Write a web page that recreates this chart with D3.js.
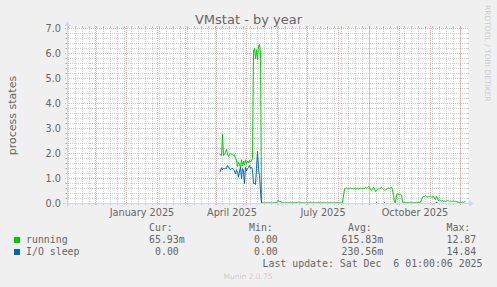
<!DOCTYPE html>
<html>
<head>
<meta charset="utf-8">
<script src="https://cdn.jsdelivr.net/npm/d3@7/dist/d3.min.js"></script>
<style>
  html, body { margin: 0; padding: 0; background: #f0f0f0; }
  svg { display: block; }
  text { font-family: "DejaVu Sans", sans-serif; fill: #666666; }
  .mono { font-family: "DejaVu Sans Mono", monospace; white-space: pre; }
</style>
</head>
<body>
<svg id="chart" width="497" height="287"></svg>
<script>
// chart data, one value per day from dataStart
var title = "VMstat - by year";
var yLabel = "process states";
var timeDomain = ["2024-11-03", "2025-12-08"];
var dataStart = "2025-04-04";
var seriesNames = ["running", "I/O sleep"];
var seriesColors = ["#00cc00", "#0066b3"];

var runningValues = [
  1.96,1.95,1.92,2.76,1.92,2.00,2.05,2.16,1.98,1.88,1.97,1.99,1.96,1.97,1.92,1.95,1.80,1.70,1.48,1.65,
  1.55,1.42,1.75,1.50,1.70,1.55,1.75,1.60,1.70,1.62,1.72,1.65,1.72,1.79,6.10,6.20,5.80,6.15,5.75,6.28,
  6.36,6.05,0.03,
  0.03,0.03,0.03,0.03,0.03,0.03,0.03,0.03,0.03,0.03,0.03,0.03,0.03,0.04,0.05,0.08,0.12,0.06,0.10,0.04,
  0.03,0.03,0.03,0.03,0.03,0.03,0.03,0.03,0.05,0.03,0.03,0.03,0.03,0.03,0.04,0.03,0.06,0.03,0.05,0.03,
  0.03,0.03,0.03,0.03,0.03,0.03,0.03,0.03,0.05,0.03,0.03,0.03,0.03,0.03,0.03,0.03,0.05,0.03,0.03,0.03,
  0.04,0.03,0.03,0.03,0.03,0.03,0.03,0.03,0.05,0.03,0.03,0.03,0.03,0.03,0.04,0.03,0.03,0.03,0.03,0.03,
  0.03,0.30,0.59,0.60,0.62,0.59,0.61,0.59,0.63,0.59,0.60,0.59,0.61,0.60,0.59,0.61,0.58,0.60,0.62,0.59,
  0.60,0.61,0.59,0.64,0.62,0.63,0.68,0.64,0.56,0.52,0.58,0.65,0.60,0.48,0.52,0.57,0.59,0.58,0.63,0.65,
  0.61,0.57,0.53,0.55,0.58,0.60,0.62,0.60,0.63,0.66,0.55,0.32,0.05,0.04,0.35,0.39,0.36,0.35,0.36,0.34,
  0.05,0.04,0.04,0.05,0.04,0.04,0.03,0.04,0.05,0.04,0.04,0.03,0.04,0.04,0.05,0.04,0.04,0.04,0.05,0.15,
  0.25,0.28,0.27,0.31,0.28,0.26,0.28,0.27,0.29,0.26,0.27,0.28,0.20,0.15,0.28,0.20,0.12,0.13,0.12,0.10,
  0.12,0.09,0.10,0.08,0.10,0.11,0.10,0.09,0.10,0.08,0.09,0.10,0.08,0.09,0.08,0.07,0.05,0.04,0.03,0.04,
  0.06,0.05,0.06,0.07
];

var ioSleepValues = [
  1.25,1.30,1.43,1.35,1.40,1.38,1.42,1.40,1.52,1.45,1.40,1.35,1.38,1.42,1.35,1.30,1.19,1.35,1.25,1.05,
  1.30,1.45,1.00,1.40,1.30,0.79,1.45,1.30,1.40,1.45,1.52,1.40,1.45,1.35,0.80,0.80,0.76,1.40,2.08,1.39,
  1.12,0.50,0.00,
  0,0,0,0,0,0,0,0,0,0,0,0,0,0,0,0,0,0,0,0,
  0,0,0,0,0,0,0,0,0,0,0,0,0,0,0,0,0,0,0,0,
  0,0,0,0,0,0,0,0,0,0,0,0,0,0,0,0,0,0,0,0,
  0,0,0,0,0,0,0,0,0,0,0,0,0,0,0,0,0,0,0,0,
  0,0,0,0,0,0,0,0,0,0,0,0,0,0,0,0,0,0,0,0,
  0,0,0,0,0,0,0,0,0,0,0,0,0,0,0.04,0,0,0,0,0,
  0,0,0.04,0,0,0,0,0,0,0,0,0,0,0,0,0,0,0,0,0,
  0,0,0,0,0,0,0,0,0,0,0,0,0,0,0,0,0,0,0,0,
  0,0,0,0,0,0,0,0,0,0,0,0,0,0,0.06,0,0,0,0,0,
  0,0,0,0,0,0,0,0,0,0,0,0,0,0,0,0,0,0,0,0,
  0,0,0,0
];

var yTicks = [0, 1, 2, 3, 4, 5, 6, 7];
var quarterLabels = ["2025-01-01", "2025-04-01", "2025-07-01", "2025-10-01"];
var legendHeader = ["Cur:", "Min:", "Avg:", "Max:"];
var runningStats = ["65.93m", "0.00", "615.83m", "12.87"];
var ioSleepStats = ["0.00", "0.00", "230.56m", "14.84"];
var lastUpdate = "Last update: Sat Dec  6 01:00:06 2025";
var watermark = "Munin 2.0.75";
var sideNote = "RRDTOOL / TOBI OETIKER";

var svg = d3.select("#chart");
var x0 = 67, y0 = 203, plotW = 400, plotH = 175;
var parseDay = d3.utcParse("%Y-%m-%d");
var start = parseDay(timeDomain[0]), end = parseDay(timeDomain[1]);

var x = d3.scaleUtc().domain([start, end]).range([x0 + 0.5, x0 + plotW + 0.5]);
var y = d3.scaleLinear().domain([0, 7]).range([y0 + 0.5, y0 - plotH + 0.5]);

svg.append("rect").attr("width", 497).attr("height", 287).attr("fill", "#f0f0f0");
svg.append("rect").attr("x", x0).attr("y", y0 - plotH).attr("width", plotW + 1).attr("height", plotH + 1).attr("fill", "#ffffff");

var minorCol = "rgba(143,143,143,0.42)";
var majorCol = "rgba(222,79,79,0.45)";
var grid = svg.append("g").attr("shape-rendering", "crispEdges");

// horizontal minor grid every 0.2
var minorY = d3.range(0, 36).map(function (i) { return i / 5; })
  .filter(function (v) { return Math.round(v * 5) % 5 != 0; });
minorY.forEach(function (v) {
  var yy = y(v);
  grid.append("line").attr("x1", x0 - 1).attr("x2", x0 + plotW + 1).attr("y1", yy).attr("y2", yy)
    .attr("stroke", minorCol).attr("stroke-dasharray", "1,1");
  grid.append("line").attr("x1", x0 - 2).attr("x2", x0).attr("y1", yy).attr("y2", yy).attr("stroke", minorCol);
  grid.append("line").attr("x1", x0 + plotW).attr("x2", x0 + plotW + 2).attr("y1", yy).attr("y2", yy).attr("stroke", minorCol);
});

// vertical minor grid, weekly on mondays
d3.utcMonday.range(start, end).forEach(function (d) {
  var xx = Math.round(x(d) - 0.5) + 0.5;
  grid.append("line").attr("x1", xx).attr("x2", xx).attr("y1", y0 + 1).attr("y2", y0 - plotH - 1)
    .attr("stroke", minorCol).attr("stroke-dasharray", "1,1");
  grid.append("line").attr("x1", xx).attr("x2", xx).attr("y1", y0).attr("y2", y0 + 2).attr("stroke", minorCol);
  grid.append("line").attr("x1", xx).attr("x2", xx).attr("y1", y0 - plotH - 2).attr("y2", y0 - plotH).attr("stroke", minorCol);
});

// major grid
yTicks.forEach(function (v) {
  var yy = y(v);
  grid.append("line").attr("x1", x0 - 2).attr("x2", x0 + plotW + 2).attr("y1", yy).attr("y2", yy)
    .attr("stroke", majorCol).attr("stroke-dasharray", "1,1");
});
d3.utcMonth.range(start, end).forEach(function (d) {
  var xx = Math.round(x(d) - 0.5) + 0.5;
  grid.append("line").attr("x1", xx).attr("x2", xx).attr("y1", y0 + 2).attr("y2", y0 - plotH - 2)
    .attr("stroke", majorCol).attr("stroke-dasharray", "1,1");
});

// data lines
var day0 = parseDay(dataStart);
function toPoints(values) {
  return values.map(function (v, i) { return { date: d3.utcDay.offset(day0, i), value: v }; });
}
var line = d3.line()
  .x(function (d) { return x(d.date); })
  .y(function (d) { return y(d.value); });

[runningValues, ioSleepValues].forEach(function (vals, i) {
  svg.append("path")
    .datum(toPoints(vals))
    .attr("fill", "none")
    .attr("stroke", seriesColors[i])
    .attr("stroke-width", 1)
    .attr("d", line);
});

// axes and arrows
var axisCol = "#cfd6f8";
svg.append("line").attr("x1", x0 - 4).attr("x2", x0 + plotW + 4).attr("y1", y0 + 0.5).attr("y2", y0 + 0.5)
  .attr("stroke", axisCol).attr("shape-rendering", "crispEdges");
svg.append("line").attr("x1", x0 + 0.5).attr("x2", x0 + 0.5).attr("y1", y0 + 4).attr("y2", y0 - plotH - 4)
  .attr("stroke", axisCol).attr("shape-rendering", "crispEdges");
svg.append("polygon").attr("fill", axisCol)
  .attr("points", [[x0 + plotW + 2, y0 - 2.5], [x0 + plotW + 2, y0 + 3.5], [x0 + plotW + 7, y0 + 0.5]].join(" "));
svg.append("polygon").attr("fill", axisCol)
  .attr("points", [[x0 - 2.5, y0 - plotH - 2], [x0 + 3.5, y0 - plotH - 2], [x0 + 0.5, y0 - plotH - 7]].join(" "));

// tick labels
var fmt = d3.format(".1f");
svg.append("g").selectAll("text").data(yTicks).enter().append("text")
  .attr("x", 61).attr("y", function (d) { return y(d); })
  .attr("dy", "0.36em").attr("text-anchor", "end")
  .style("font-size", "9.7px")
  .text(function (d) { return fmt(d); });

var labelFmt = d3.utcFormat("%B %Y");
svg.append("g").selectAll("text").data(quarterLabels.map(parseDay)).enter().append("text")
  .attr("x", function (d) { return x(d3.utcHour.offset(d, 15 * 24 + 12)); })
  .attr("y", 216).attr("text-anchor", "middle")
  .style("font-size", "9.7px")
  .text(function (d) { return labelFmt(d); });

// title and unit label
svg.append("text").attr("x", 248.5).attr("y", 23.5).attr("text-anchor", "middle")
  .style("font-size", "13px").text(title);
svg.append("text").attr("transform", "translate(16,115.5) rotate(-90)").attr("text-anchor", "middle")
  .style("font-size", "11px").text(yLabel);

svg.append("text").attr("transform", "translate(484.5,5) rotate(90)")
  .style("font-size", "7.5px").style("fill-opacity", 0.3).text(sideNote);

// legend
var headX = [149, 249, 348, 446.5];
var rowX = [[149, 254, 341.5, 446.5], [155, 254, 341.5, 446.5]];
var lg = svg.append("g").attr("class", "mono").style("font-size", "9.9px");
legendHeader.forEach(function (h, i) {
  lg.append("text").attr("class", "mono").attr("x", headX[i]).attr("y", 231).text(h);
});
[runningStats, ioSleepStats].forEach(function (stats, r) {
  var yy = 243 + r * 12;
  lg.append("rect").attr("x", 14).attr("y", yy - 6).attr("width", 6).attr("height", 6).attr("fill", seriesColors[r]);
  lg.append("text").attr("class", "mono").attr("x", 26).attr("y", yy).text(seriesNames[r]);
  stats.forEach(function (s, i) {
    lg.append("text").attr("class", "mono").attr("x", rowX[r][i]).attr("y", yy).text(s);
  });
});
lg.append("text").attr("class", "mono").attr("x", 482.5).attr("y", 267).attr("text-anchor", "end").text(lastUpdate);

svg.append("text").attr("x", 248).attr("y", 279).attr("text-anchor", "middle")
  .style("font-size", "7.5px").style("fill-opacity", 0.3).text(watermark);
</script>
</body>
</html>
